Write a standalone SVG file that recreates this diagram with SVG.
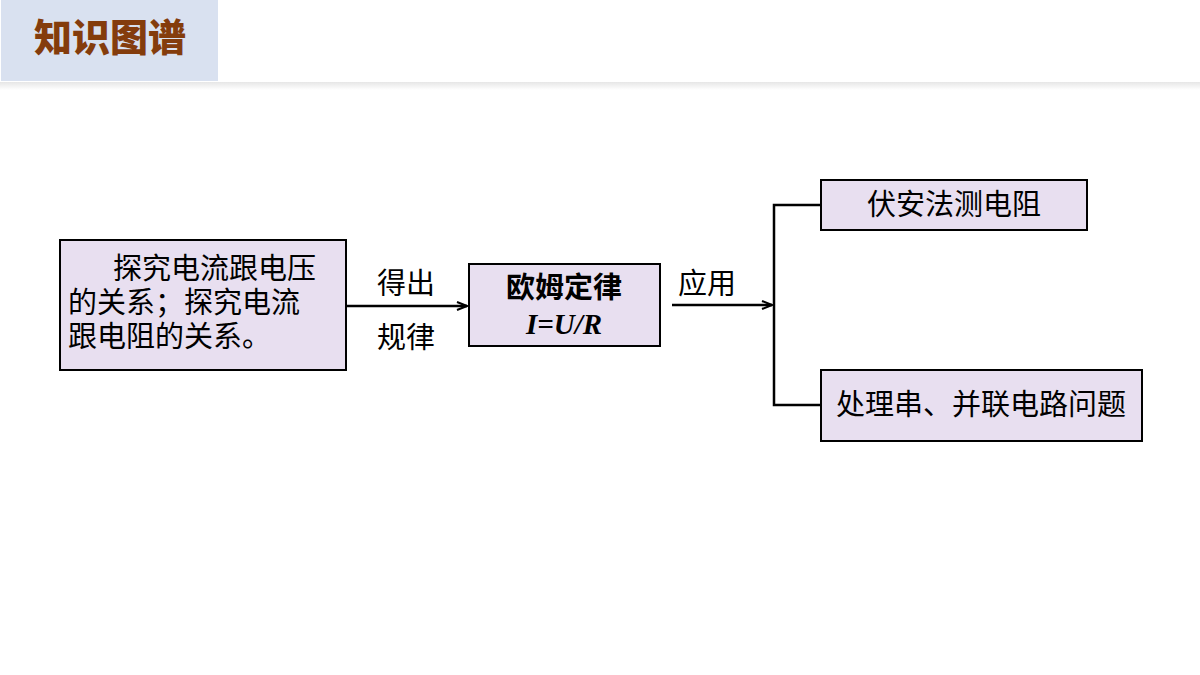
<svg xmlns="http://www.w3.org/2000/svg" width="1200" height="675" viewBox="0 0 1200 675">
<style>
.box{fill:#e8dff0;stroke:#000;stroke-width:2}
.t{font-family:"Noto Sans CJK SC",sans-serif;font-size:29px;fill:#000}
.ln{stroke:#000;stroke-width:2.5;fill:none}
</style>
<defs>
<marker id="ar" markerWidth="12" markerHeight="10" refX="11" refY="5" orient="auto" markerUnits="userSpaceOnUse"><path d="M1,1 L11,5 L1,9" fill="none" stroke="#000" stroke-width="2"/></marker>
<linearGradient id="sh" x1="0" y1="0" x2="0" y2="1"><stop offset="0" stop-color="#e6e6e6"/><stop offset="1" stop-color="#fff"/></linearGradient>
</defs>
<rect width="1200" height="675" fill="#fff"/>
<rect x="0" y="82" width="1200" height="8" fill="url(#sh)"/>
<g id="header">
<rect x="1" y="0" width="217" height="81" fill="#d9e1f0"/>
<text x="110" y="51" text-anchor="middle" font-family="Noto Sans CJK SC,sans-serif" font-size="38" font-weight="900" fill="#843c0c">知识图谱</text>
</g>
<g id="connectors">
<line class="ln" x1="347" y1="306" x2="467" y2="306" marker-end="url(#ar)"/>
<line class="ln" x1="672" y1="305" x2="772" y2="305" marker-end="url(#ar)"/>
<polyline class="ln" points="820,205 774,205 774,405 820,405"/>
<text class="t" x="377" y="294">得出</text>
<text class="t" x="377" y="348">规律</text>
<text class="t" x="678" y="294">应用</text>
</g>
<g id="n1">
<rect class="box" x="60" y="240" width="286" height="130"/>
<text class="t" x="113" y="279">探究电流跟电压</text>
<text class="t" x="68" y="313">的关系；探究电流</text>
<text class="t" x="68" y="347">跟电阻的关系。</text>
</g>
<g id="n2">
<rect class="box" x="469" y="264" width="191" height="82"/>
<text class="t" x="564" y="298" text-anchor="middle" font-weight="bold" font-size="30">欧姆定律</text>
<text x="564" y="334" text-anchor="middle" font-family="Liberation Serif,serif" font-size="29" font-weight="bold" font-style="italic">I=U/R</text>
</g>
<g id="n3">
<rect class="box" x="821" y="180" width="266" height="50"/>
<text class="t" x="954" y="215" text-anchor="middle">伏安法测电阻</text>
</g>
<g id="n4">
<rect class="box" x="821" y="370" width="321" height="71"/>
<text class="t" x="981" y="415" text-anchor="middle">处理串、并联电路问题</text>
</g>
</svg>
